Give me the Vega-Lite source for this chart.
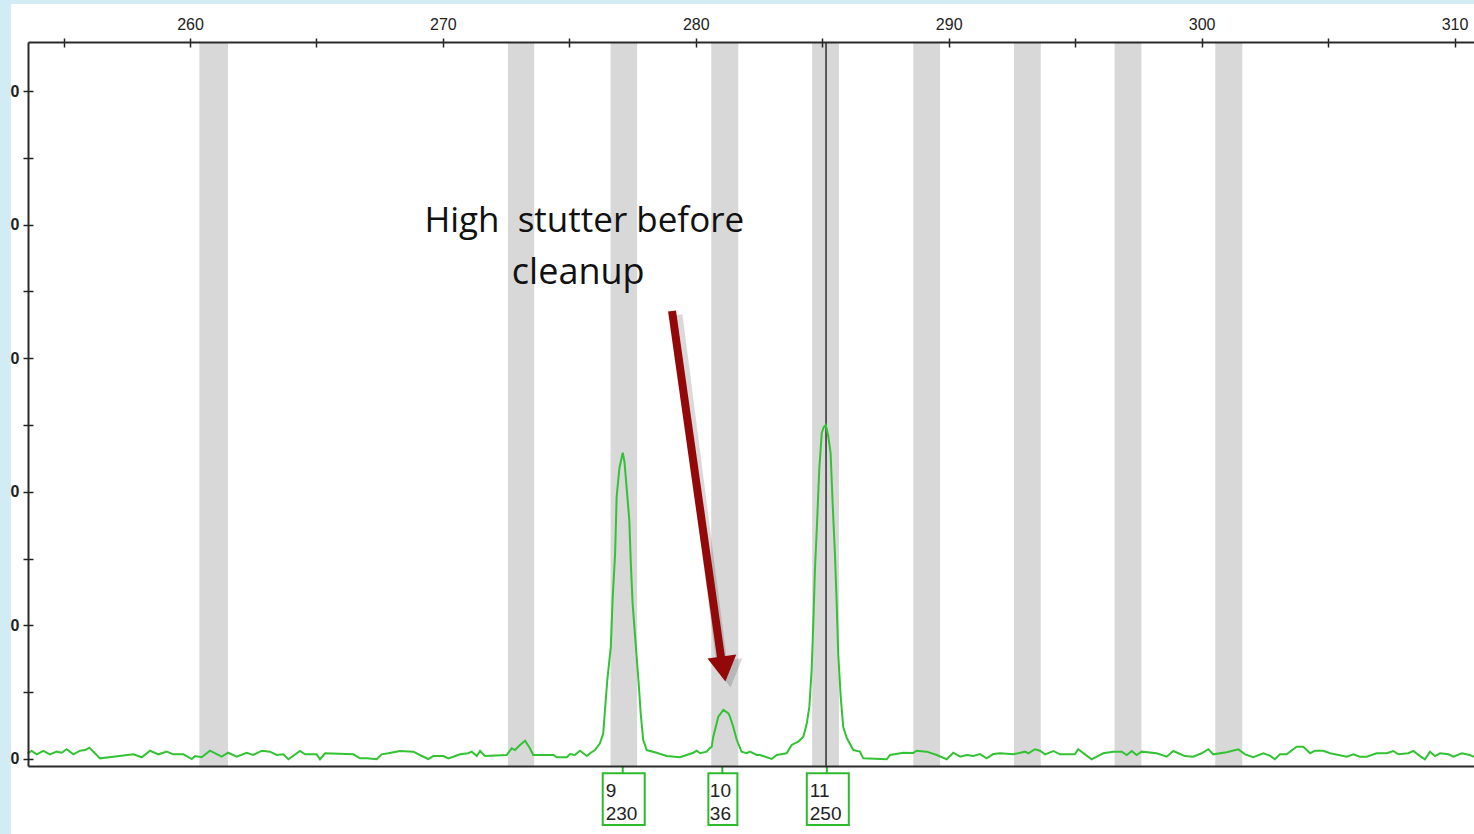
{
  "$schema": "https://vega.github.io/schema/vega-lite/v6.json",
  "width": 1446,
  "height": 724,
  "autosize": {"type": "none"},
  "padding": {"left": 28, "top": 42, "right": 0, "bottom": 68},
  "background": "#d2ecf5",
  "config": {"view": {"stroke": null}, "font": "Liberation Sans", "scale": {"continuousPadding": 0}},
  "datasets": {
    "trace": [
      {"bp":253.58,"rfu":4.3},{"bp":253.74,"rfu":6.0},{"bp":253.94,"rfu":3.5},{"bp":254.20,"rfu":6.0},{"bp":254.46,"rfu":3.5},{"bp":254.73,"rfu":5.5},{"bp":254.93,"rfu":4.7},{"bp":255.12,"rfu":7.3},{"bp":255.39,"rfu":3.5},{"bp":255.65,"rfu":6.2},{"bp":255.85,"rfu":6.7},{"bp":256.02,"rfu":8.5},{"bp":256.24,"rfu":4.3},{"bp":256.44,"rfu":0.5},{"bp":256.97,"rfu":1.7},{"bp":257.76,"rfu":3.5},{"bp":258.09,"rfu":1.3},{"bp":258.42,"rfu":6.2},{"bp":258.75,"rfu":3.5},{"bp":259.08,"rfu":5.5},{"bp":259.34,"rfu":3.5},{"bp":259.74,"rfu":3.5},{"bp":260.07,"rfu":0.0},{"bp":260.20,"rfu":2.2},{"bp":260.46,"rfu":1.3},{"bp":260.79,"rfu":6.2},{"bp":261.25,"rfu":1.7},{"bp":261.51,"rfu":4.7},{"bp":261.85,"rfu":1.7},{"bp":262.24,"rfu":4.7},{"bp":262.50,"rfu":3.0},{"bp":262.84,"rfu":6.2},{"bp":263.16,"rfu":5.5},{"bp":263.43,"rfu":3.0},{"bp":263.69,"rfu":3.5},{"bp":263.89,"rfu":-0.2},{"bp":264.35,"rfu":6.0},{"bp":264.55,"rfu":3.5},{"bp":265.01,"rfu":3.5},{"bp":265.14,"rfu":-0.2},{"bp":265.34,"rfu":4.3},{"bp":266.46,"rfu":3.5},{"bp":266.72,"rfu":0.5},{"bp":266.99,"rfu":0.5},{"bp":267.38,"rfu":-0.2},{"bp":267.58,"rfu":3.5},{"bp":267.84,"rfu":4.3},{"bp":268.30,"rfu":6.0},{"bp":268.83,"rfu":5.5},{"bp":269.09,"rfu":3.0},{"bp":269.42,"rfu":0.0},{"bp":269.62,"rfu":2.2},{"bp":270.02,"rfu":2.2},{"bp":270.21,"rfu":0.5},{"bp":270.41,"rfu":1.7},{"bp":270.68,"rfu":3.5},{"bp":271.00,"rfu":4.3},{"bp":271.14,"rfu":5.5},{"bp":271.34,"rfu":2.2},{"bp":271.47,"rfu":6.0},{"bp":271.66,"rfu":2.2},{"bp":272.52,"rfu":3.0},{"bp":272.72,"rfu":8.0},{"bp":272.85,"rfu":6.7},{"bp":273.05,"rfu":10.5},{"bp":273.25,"rfu":13.7},{"bp":273.44,"rfu":8.0},{"bp":273.57,"rfu":3.0},{"bp":274.37,"rfu":3.0},{"bp":274.50,"rfu":1.3},{"bp":274.90,"rfu":1.3},{"bp":275.03,"rfu":3.7},{"bp":275.22,"rfu":3.0},{"bp":275.42,"rfu":6.2},{"bp":275.55,"rfu":4.3},{"bp":275.69,"rfu":2.2},{"bp":275.82,"rfu":4.3},{"bp":276.01,"rfu":6.7},{"bp":276.21,"rfu":11.8},{"bp":276.34,"rfu":19.2},{"bp":276.40,"rfu":34.4},{"bp":276.50,"rfu":59.1},{"bp":276.64,"rfu":84.1},{"bp":276.71,"rfu":119.0},{"bp":276.81,"rfu":154.2},{"bp":276.87,"rfu":196.3},{"bp":276.98,"rfu":217.8},{"bp":277.11,"rfu":229.3},{"bp":277.18,"rfu":222.3},{"bp":277.24,"rfu":208.8},{"bp":277.37,"rfu":178.9},{"bp":277.43,"rfu":146.7},{"bp":277.50,"rfu":116.8},{"bp":277.64,"rfu":81.6},{"bp":277.74,"rfu":56.9},{"bp":277.82,"rfu":34.4},{"bp":277.92,"rfu":14.2},{"bp":278.06,"rfu":6.7},{"bp":278.45,"rfu":4.7},{"bp":278.85,"rfu":2.2},{"bp":279.38,"rfu":1.3},{"bp":279.90,"rfu":4.7},{"bp":280.04,"rfu":6.2},{"bp":280.17,"rfu":4.3},{"bp":280.43,"rfu":5.5},{"bp":280.56,"rfu":8.2},{"bp":280.63,"rfu":9.2},{"bp":280.69,"rfu":16.7},{"bp":280.76,"rfu":21.7},{"bp":280.89,"rfu":31.7},{"bp":281.09,"rfu":36.7},{"bp":281.29,"rfu":34.2},{"bp":281.35,"rfu":31.7},{"bp":281.48,"rfu":24.2},{"bp":281.62,"rfu":14.2},{"bp":281.81,"rfu":5.5},{"bp":282.01,"rfu":4.3},{"bp":282.14,"rfu":5.5},{"bp":282.41,"rfu":3.0},{"bp":282.54,"rfu":3.0},{"bp":283.00,"rfu":0.0},{"bp":283.20,"rfu":3.0},{"bp":283.59,"rfu":4.3},{"bp":283.79,"rfu":10.5},{"bp":284.05,"rfu":13.0},{"bp":284.25,"rfu":16.7},{"bp":284.39,"rfu":26.7},{"bp":284.49,"rfu":39.2},{"bp":284.58,"rfu":66.6},{"bp":284.65,"rfu":104.0},{"bp":284.71,"rfu":141.5},{"bp":284.80,"rfu":178.9},{"bp":284.88,"rfu":216.3},{"bp":284.98,"rfu":244.0},{"bp":285.06,"rfu":248.5},{"bp":285.14,"rfu":250.0},{"bp":285.23,"rfu":242.5},{"bp":285.33,"rfu":229.0},{"bp":285.41,"rfu":191.6},{"bp":285.50,"rfu":154.2},{"bp":285.57,"rfu":116.8},{"bp":285.63,"rfu":79.3},{"bp":285.73,"rfu":46.4},{"bp":285.83,"rfu":24.0},{"bp":285.97,"rfu":15.7},{"bp":286.23,"rfu":6.7},{"bp":286.49,"rfu":5.5},{"bp":286.62,"rfu":0.5},{"bp":287.55,"rfu":-0.2},{"bp":287.68,"rfu":3.0},{"bp":288.21,"rfu":4.7},{"bp":288.60,"rfu":4.5},{"bp":288.73,"rfu":6.2},{"bp":289.13,"rfu":5.5},{"bp":289.53,"rfu":3.0},{"bp":289.92,"rfu":-0.2},{"bp":290.18,"rfu":4.7},{"bp":290.45,"rfu":1.7},{"bp":290.71,"rfu":3.0},{"bp":290.97,"rfu":2.2},{"bp":291.24,"rfu":3.7},{"bp":291.50,"rfu":0.5},{"bp":291.76,"rfu":3.7},{"bp":292.03,"rfu":4.3},{"bp":292.55,"rfu":3.5},{"bp":293.02,"rfu":5.5},{"bp":293.15,"rfu":4.3},{"bp":293.41,"rfu":7.3},{"bp":293.61,"rfu":6.2},{"bp":293.81,"rfu":3.5},{"bp":294.14,"rfu":6.0},{"bp":294.40,"rfu":3.5},{"bp":294.99,"rfu":3.5},{"bp":295.12,"rfu":7.3},{"bp":295.39,"rfu":3.5},{"bp":295.65,"rfu":-0.2},{"bp":296.11,"rfu":4.3},{"bp":296.51,"rfu":5.5},{"bp":296.84,"rfu":5.5},{"bp":297.04,"rfu":3.0},{"bp":297.24,"rfu":6.0},{"bp":297.43,"rfu":3.0},{"bp":297.63,"rfu":5.5},{"bp":298.22,"rfu":4.3},{"bp":298.62,"rfu":1.7},{"bp":298.88,"rfu":6.0},{"bp":299.08,"rfu":4.3},{"bp":299.34,"rfu":2.2},{"bp":299.67,"rfu":1.7},{"bp":300.00,"rfu":4.3},{"bp":300.27,"rfu":7.3},{"bp":300.46,"rfu":3.5},{"bp":300.99,"rfu":5.0},{"bp":301.45,"rfu":7.3},{"bp":301.72,"rfu":3.5},{"bp":302.04,"rfu":1.3},{"bp":302.44,"rfu":4.3},{"bp":302.70,"rfu":2.5},{"bp":302.90,"rfu":-0.2},{"bp":303.10,"rfu":3.5},{"bp":303.36,"rfu":3.5},{"bp":303.76,"rfu":9.2},{"bp":304.02,"rfu":9.2},{"bp":304.29,"rfu":4.3},{"bp":304.48,"rfu":6.2},{"bp":304.81,"rfu":6.2},{"bp":305.08,"rfu":4.3},{"bp":305.74,"rfu":1.7},{"bp":306.00,"rfu":3.5},{"bp":306.26,"rfu":1.7},{"bp":306.53,"rfu":1.7},{"bp":306.92,"rfu":4.3},{"bp":307.32,"rfu":4.3},{"bp":307.58,"rfu":6.0},{"bp":307.78,"rfu":3.5},{"bp":308.17,"rfu":4.3},{"bp":308.37,"rfu":6.0},{"bp":308.64,"rfu":2.2},{"bp":308.83,"rfu":-0.2},{"bp":309.03,"rfu":5.5},{"bp":309.23,"rfu":2.2},{"bp":309.43,"rfu":4.3},{"bp":309.76,"rfu":3.5},{"bp":309.95,"rfu":1.7},{"bp":310.29,"rfu":4.3},{"bp":310.61,"rfu":3.0},{"bp":310.77,"rfu":1.7}
    ],
    "bins": [
      {"start":260.37,"end":261.50},{"start":272.57,"end":273.61},{"start":276.63,"end":277.68},{"start":280.61,"end":281.68},{"start":284.60,"end":285.66},{"start":288.60,"end":289.66},{"start":292.58,"end":293.64},{"start":296.56,"end":297.62},{"start":300.54,"end":301.61}
    ],
    "alleles": [
      {"allele":"9","size":277.11,"height":230},
      {"allele":"10","size":281.05,"height":36},
      {"allele":"11","size":285.18,"height":250}
    ],
    "cursor": [{"bp":285.15}]
  },
  "resolve": {"axis": {"x": "independent", "y": "independent"}},
  "layer": [
    {
      "data": {"values": [{}]},
      "mark": {"type": "rect", "fill": "#ffffff"},
      "encoding": {
        "x": {"datum": 252.92, "type": "quantitative", "scale": {"domain": [253.594, 310.771], "nice": false, "zero": false, "padding": 0}, "axis": null},
        "x2": {"datum": 313},
        "y": {"datum": 565.1, "type": "quantitative", "scale": {"domain": [-5.24, 536.68], "nice": false, "zero": false, "padding": 0}, "axis": null},
        "y2": {"datum": -80}
      }
    },
    {
      "data": {"name": "bins"},
      "mark": {"type": "rect", "fill": "#d8d8d8"},
      "encoding": {
        "x": {"field": "start", "type": "quantitative", "scale": {"domain": [253.594, 310.771], "nice": false, "zero": false, "padding": 0},
              "axis": {"orient": "bottom", "ticks": false, "labels": false, "domainColor": "#2a2a2a", "domainWidth": 2, "title": null, "grid": false, "zindex": 1}},
        "x2": {"field": "end"}
      }
    },
    {
      "data": {"name": "cursor"},
      "mark": {"type": "rule", "color": "#3a3a3a", "strokeWidth": 1.6},
      "encoding": {
        "x": {"field": "bp", "type": "quantitative", "scale": {"domain": [253.594, 310.771], "nice": false, "zero": false, "padding": 0},
              "axis": {"orient": "top", "values": [255,260,265,270,275,280,285,290,295,300,305,310], "labels": false, "domain": false, "tickSize": -5, "tickColor": "#222222", "tickWidth": 1.5, "title": null, "grid": false, "zindex": 1}}
      }
    },
    {
      "data": {"name": "trace"},
      "mark": {"type": "line", "color": "#33c233", "strokeWidth": 2, "interpolate": "linear"},
      "encoding": {
        "x": {"field": "bp", "type": "quantitative", "scale": {"domain": [253.594, 310.771], "nice": false, "zero": false, "padding": 0},
              "axis": {"orient": "top", "values": [255,260,265,270,275,280,285,290,295,300,305,310], "labelExpr": "datum.value % 10 === 0 ? datum.label : ''",
                       "tickSize": 4, "tickColor": "#222222", "tickWidth": 1.5, "labelPadding": 6, "labelFont": "Liberation Sans", "labelFontSize": 16, "labelColor": "#222222",
                       "labelFlush": false, "labelOverlap": false, "domainColor": "#2a2a2a", "domainWidth": 2, "title": null, "grid": false, "zindex": 1}},
        "y": {"field": "rfu", "type": "quantitative", "scale": {"domain": [-5.24, 536.68], "nice": false, "zero": false, "padding": 0},
              "axis": {"orient": "left", "values": [0,50,100,150,200,250,300,350,400,450,500], "labelExpr": "datum.value % 100 === 0 ? slice(datum.label, -1) : ''",
                       "tickSize": 5, "tickColor": "#222222", "tickWidth": 1.5, "labelPadding": 4, "labelFont": "Liberation Sans", "labelFontSize": 16, "labelFontWeight": "bold", "labelColor": "#222222",
                       "labelFlush": false, "labelOverlap": false, "domainColor": "#2a2a2a", "domainWidth": 2, "title": null, "grid": false, "zindex": 1}}
      }
    },
    {
      "data": {"name": "cursor"},
      "mark": {"type": "rule", "color": "#3a3a3a", "strokeWidth": 0},
      "encoding": {
        "y": {"datum": 0, "type": "quantitative", "scale": {"domain": [-5.24, 536.68], "nice": false, "zero": false, "padding": 0},
              "axis": {"orient": "left", "values": [0,50,100,150,200,250,300,350,400,450,500], "labels": false, "domain": false, "tickSize": -5, "tickColor": "#222222", "tickWidth": 1.5, "title": null, "grid": false, "zindex": 1}}
      }
    },
    {
      "data": {"name": "alleles"},
      "mark": {"type": "rule", "color": "#2dbb2d", "strokeWidth": 2},
      "encoding": {
        "x": {"field": "size", "type": "quantitative", "scale": {"domain": [253.594, 310.771], "nice": false, "zero": false, "padding": 0}, "axis": null},
        "y": {"datum": -5.24, "type": "quantitative", "scale": {"domain": [-5.24, 536.68], "nice": false, "zero": false, "padding": 0}, "axis": null},
        "y2": {"datum": -10.7}
      }
    },
    {
      "data": {"name": "alleles"},
      "transform": [{"filter": "datum.allele !== '10'"}],
      "mark": {"type": "bar", "fill": "#ffffff", "stroke": "#2dbb2d", "strokeWidth": 2, "width": 42, "xOffset": 1, "opacity": 1},
      "encoding": {
        "x": {"field": "size", "type": "quantitative", "scale": {"domain": [253.594, 310.771], "nice": false, "zero": false, "padding": 0}, "axis": null},
        "y": {"datum": -10.7, "type": "quantitative", "scale": {"domain": [-5.24, 536.68], "nice": false, "zero": false, "padding": 0}, "axis": null},
        "y2": {"datum": -49.4}
      }
    },
    {
      "data": {"name": "alleles"},
      "transform": [{"filter": "datum.allele === '10'"}],
      "mark": {"type": "bar", "fill": "#ffffff", "stroke": "#2dbb2d", "strokeWidth": 2, "width": 29, "xOffset": 0.5, "opacity": 1},
      "encoding": {
        "x": {"field": "size", "type": "quantitative", "scale": {"domain": [253.594, 310.771], "nice": false, "zero": false, "padding": 0}, "axis": null},
        "y": {"datum": -10.7, "type": "quantitative", "scale": {"domain": [-5.24, 536.68], "nice": false, "zero": false, "padding": 0}, "axis": null},
        "y2": {"datum": -49.4}
      }
    },
    {
      "data": {"name": "alleles"},
      "transform": [{"filter": "datum.allele !== '10'"}],
      "mark": {"type": "text", "font": "Liberation Sans", "fontSize": 19, "color": "#222222", "align": "left", "baseline": "alphabetic", "dx": -17, "dy": 23.7},
      "encoding": {
        "x": {"field": "size", "type": "quantitative", "scale": {"domain": [253.594, 310.771], "nice": false, "zero": false, "padding": 0}, "axis": null},
        "y": {"datum": -10.7, "type": "quantitative", "scale": {"domain": [-5.24, 536.68], "nice": false, "zero": false, "padding": 0}, "axis": null},
        "text": {"field": "allele"}
      }
    },
    {
      "data": {"name": "alleles"},
      "transform": [{"filter": "datum.allele !== '10'"}],
      "mark": {"type": "text", "font": "Liberation Sans", "fontSize": 19, "color": "#222222", "align": "left", "baseline": "alphabetic", "dx": -17, "dy": 46.7},
      "encoding": {
        "x": {"field": "size", "type": "quantitative", "scale": {"domain": [253.594, 310.771], "nice": false, "zero": false, "padding": 0}, "axis": null},
        "y": {"datum": -10.7, "type": "quantitative", "scale": {"domain": [-5.24, 536.68], "nice": false, "zero": false, "padding": 0}, "axis": null},
        "text": {"field": "height"}
      }
    },
    {
      "data": {"name": "alleles"},
      "transform": [{"filter": "datum.allele === '10'"}],
      "mark": {"type": "text", "font": "Liberation Sans", "fontSize": 19, "color": "#222222", "align": "left", "baseline": "alphabetic", "dx": -12.5, "dy": 23.7},
      "encoding": {
        "x": {"field": "size", "type": "quantitative", "scale": {"domain": [253.594, 310.771], "nice": false, "zero": false, "padding": 0}, "axis": null},
        "y": {"datum": -10.7, "type": "quantitative", "scale": {"domain": [-5.24, 536.68], "nice": false, "zero": false, "padding": 0}, "axis": null},
        "text": {"field": "allele"}
      }
    },
    {
      "data": {"name": "alleles"},
      "transform": [{"filter": "datum.allele === '10'"}],
      "mark": {"type": "text", "font": "Liberation Sans", "fontSize": 19, "color": "#222222", "align": "left", "baseline": "alphabetic", "dx": -12.5, "dy": 46.7},
      "encoding": {
        "x": {"field": "size", "type": "quantitative", "scale": {"domain": [253.594, 310.771], "nice": false, "zero": false, "padding": 0}, "axis": null},
        "y": {"datum": -10.7, "type": "quantitative", "scale": {"domain": [-5.24, 536.68], "nice": false, "zero": false, "padding": 0}, "axis": null},
        "text": {"field": "height"}
      }
    },
    {
      "data": {"values": [{}]},
      "mark": {"type": "text", "font": "Open Sans", "fontSize": 35, "color": "#111111", "align": "center", "baseline": "alphabetic"},
      "encoding": {
        "x": {"datum": 275.59, "type": "quantitative", "scale": {"domain": [253.594, 310.771], "nice": false, "zero": false, "padding": 0}, "axis": null},
        "y": {"datum": 394.7, "type": "quantitative", "scale": {"domain": [-5.24, 536.68], "nice": false, "zero": false, "padding": 0}, "axis": null},
        "text": {"value": "High\u00a0 stutter before"}
      }
    },
    {
      "data": {"values": [{}]},
      "mark": {"type": "text", "font": "Open Sans", "fontSize": 36, "color": "#111111", "align": "center", "baseline": "alphabetic"},
      "encoding": {
        "x": {"datum": 275.35, "type": "quantitative", "scale": {"domain": [253.594, 310.771], "nice": false, "zero": false, "padding": 0}, "axis": null},
        "y": {"datum": 355.5, "type": "quantitative", "scale": {"domain": [-5.24, 536.68], "nice": false, "zero": false, "padding": 0}, "axis": null},
        "text": {"value": "cleanup"}
      }
    },
    {
      "data": {"values": [{}]},
      "mark": {"type": "rule", "color": "#000000", "opacity": 0.15, "strokeWidth": 11, "strokeCap": "butt", "xOffset": 5, "yOffset": 4},
      "encoding": {
        "x": {"datum": 279.06, "type": "quantitative", "scale": {"domain": [253.594, 310.771], "nice": false, "zero": false, "padding": 0}, "axis": null},
        "y": {"datum": 335.3, "type": "quantitative", "scale": {"domain": [-5.24, 536.68], "nice": false, "zero": false, "padding": 0}, "axis": null},
        "x2": {"datum": 281.0},
        "y2": {"datum": 75.6}
      }
    },
    {
      "data": {"values": [{}]},
      "mark": {"type": "point", "shape": "triangle-down", "filled": true, "color": "#000000", "opacity": 0.15, "size": 1000, "angle": 352, "xOffset": 5, "yOffset": 5},
      "encoding": {
        "x": {"datum": 281.10, "type": "quantitative", "scale": {"domain": [253.594, 310.771], "nice": false, "zero": false, "padding": 0}, "axis": null},
        "y": {"datum": 67.4, "type": "quantitative", "scale": {"domain": [-5.24, 536.68], "nice": false, "zero": false, "padding": 0}, "axis": null}
      }
    },
    {
      "data": {"values": [{}]},
      "mark": {"type": "rule", "color": "#930808", "strokeWidth": 8, "strokeCap": "butt"},
      "encoding": {
        "x": {"datum": 279.06, "type": "quantitative", "scale": {"domain": [253.594, 310.771], "nice": false, "zero": false, "padding": 0}, "axis": null},
        "y": {"datum": 335.3, "type": "quantitative", "scale": {"domain": [-5.24, 536.68], "nice": false, "zero": false, "padding": 0}, "axis": null},
        "x2": {"datum": 281.0},
        "y2": {"datum": 75.6}
      }
    },
    {
      "data": {"values": [{}]},
      "mark": {"type": "point", "shape": "triangle-down", "filled": true, "color": "#930808", "opacity": 1, "size": 841, "angle": 352},
      "encoding": {
        "x": {"datum": 281.10, "type": "quantitative", "scale": {"domain": [253.594, 310.771], "nice": false, "zero": false, "padding": 0}, "axis": null},
        "y": {"datum": 67.4, "type": "quantitative", "scale": {"domain": [-5.24, 536.68], "nice": false, "zero": false, "padding": 0}, "axis": null}
      }
    }
  ]
}
